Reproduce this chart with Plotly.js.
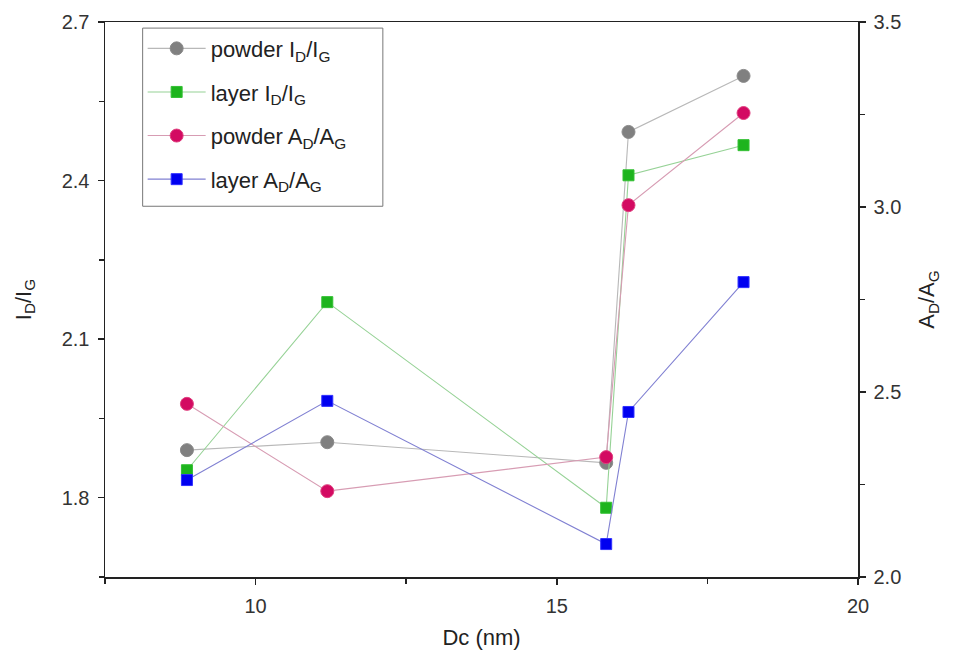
<!DOCTYPE html>
<html>
<head>
<meta charset="utf-8">
<script src="https://cdn.plot.ly/plotly-3.0.1.min.js"></script>
<style>html,body{margin:0;padding:0;background:#fff;}#chart{width:953px;height:664px;}</style>
</head>
<body>
<div id="chart"></div>
<script>
// Crystallite size Dc (nm)
const dc = [8.86, 11.19, 15.82, 16.19, 18.10];
// Left axis: I_D/I_G
const powderID = [1.890, 1.905, 1.866, 2.492, 2.598];
const layerID  = [1.852, 2.170, 1.781, 2.410, 2.467];
// Right axis: A_D/A_G
const powderAD = [2.468, 2.232, 2.324, 3.005, 3.254];
const layerAD  = [2.262, 2.476, 2.089, 2.446, 2.797];

const names = [
  'powder I<sub>D</sub>/I<sub>G</sub>',
  'layer I<sub>D</sub>/I<sub>G</sub>',
  'powder A<sub>D</sub>/A<sub>G</sub>',
  'layer A<sub>D</sub>/A<sub>G</sub>'
];

function tr(y, name, sym, mcol, mline, lcol, size, axis, grp) {
  return {
    x: dc, y: y, name: name, yaxis: axis, type: 'scatter', mode: 'lines+markers',
    legendgroup: grp,
    line: {color: lcol, width: 1.1},
    marker: {symbol: sym, color: mcol, size: size, line: {color: mline, width: 1}}
  };
}

const data = [
  tr(powderID, names[0], 'circle', '#808080', '#8a8a8a', '#b8b8b8', 13, 'y', 'g1'),
  tr(layerID,  names[1], 'square', '#1db41d', '#33c033', '#96d296', 11, 'y', 'g2'),
  tr(powderAD, names[2], 'circle', '#d30a62', '#e0407f', '#d79cb3', 13, 'y2', 'g3'),
  tr(layerAD,  names[3], 'square', '#0000f0', '#3030ff', '#8080d2', 11, 'y2', 'g4')
];

const fontFam = 'Liberation Sans, Arial, sans-serif';
const axCommon = {
  showline: true, linecolor: '#222', linewidth: 1.5,
  ticks: 'outside', ticklen: 6, tickwidth: 1.5, tickcolor: '#222',
  showgrid: false, zeroline: false, ticklabelstandoff: 4,
  tickfont: {family: fontFam, size: 20, color: '#333'}
};

const layout = {
  width: 953, height: 664,
  margin: {l: 105, r: 95, t: 22, b: 87},
  paper_bgcolor: '#fff', plot_bgcolor: '#fff',
  font: {family: fontFam, color: '#222'},
  showlegend: true,
  legend: {
    x: 0.05, y: 0.99, xanchor: 'left', yanchor: 'top',
    bgcolor: 'rgba(0,0,0,0)', borderwidth: 0,
    font: {family: fontFam, size: 22, color: '#222'},
    itemwidth: 58, tracegroupgap: 12
  },
  shapes: [{
    type: 'rect', xref: 'paper', yref: 'paper', layer: 'above',
    x0: 0.05, x1: 0.369, y0: 0.668, y1: 0.989,
    line: {color: '#777', width: 1}, fillcolor: '#fff'
  }],
  xaxis: Object.assign({}, axCommon, {
    range: [7.5, 20], tick0: 0, dtick: 5, mirror: true,
    minor: {dtick: 2.5, ticks: 'outside', ticklen: 5, tickwidth: 1.5, tickcolor: '#222'},
    title: {text: 'Dc (nm)', font: {family: fontFam, size: 22, color: '#222'}, standoff: 14}
  }),
  yaxis: Object.assign({}, axCommon, {
    range: [1.65, 2.7], tick0: 1.8, dtick: 0.3, tickformat: '.1f',
    minor: {dtick: 0.15, ticks: 'outside', ticklen: 5, tickwidth: 1.5, tickcolor: '#222'},
    title: {text: 'I<sub>D</sub>/I<sub>G</sub>', font: {family: fontFam, size: 22, color: '#222'}, standoff: 24}
  }),
  yaxis2: Object.assign({}, axCommon, {
    overlaying: 'y', side: 'right',
    range: [2.0, 3.5], tick0: 2, dtick: 0.5, tickformat: '.1f',
    minor: {dtick: 0.25, ticks: 'outside', ticklen: 5, tickwidth: 1.5, tickcolor: '#222'},
    title: {text: 'A<sub>D</sub>/A<sub>G</sub>', font: {family: fontFam, size: 22, color: '#222'}, standoff: 18}
  })
};

Plotly.newPlot('chart', data, layout, {displayModeBar: false, staticPlot: true});
</script>
</body>
</html>
